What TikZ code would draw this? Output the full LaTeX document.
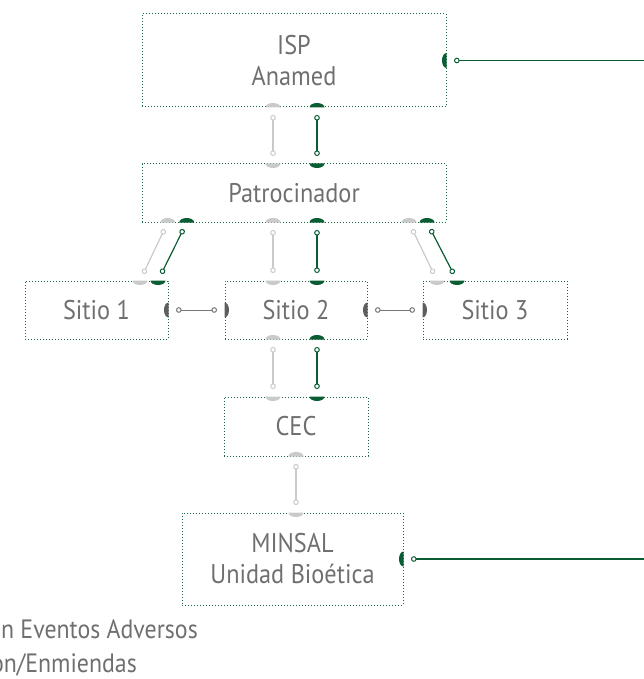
\documentclass[tikz,border=0pt]{standalone}
\usepackage{fontspec}
\setmainfont{PT Sans}[FakeStretch=0.9]
\usetikzlibrary{arrows.meta}

\definecolor{txtgrey}{HTML}{6F6F6F}
\definecolor{boxgreen}{HTML}{1A6641}
\definecolor{dkgreen}{HTML}{0A5C33}
\definecolor{lgrey}{HTML}{CACACA}
\definecolor{dgrey}{HTML}{5E5E5E}

\tikzset{
  ring/.tip={Circle[open,length=5.6pt,width=5.6pt,line width=1pt]},
  box/.style={draw=boxgreen, line width=1pt, dash pattern=on 1pt off 2pt,
    text=txtgrey, inner sep=0pt, align=center, font=\fontsize{27}{31}\selectfont},
  note/.style={text=txtgrey, inner sep=0pt, font=\fontsize{26.5}{32}\selectfont},
  link/.style={line width=1.2pt, shorten <=7.5pt, shorten >=7.5pt, ring-ring},
  glink/.style={link, draw=lgrey},
  klink/.style={link, draw=dkgreen},
  dlink/.style={link, draw=dgrey!85, line width=1pt},
  plug/.pic={\fill (-7.5,0) arc[start angle=180,end angle=0,x radius=7.5,y radius=4.5] -- cycle;},
}

\begin{document}
\begin{tikzpicture}[x=1pt,y=-1pt]
\useasboundingbox (0,0) rectangle (644,679);
\coordinate (rim) at (644,0);

\begin{scope}[every node/.style={box}]
  \node[minimum width=304pt, minimum height=93pt] (isp) at (294,60.5) {ISP\\Anamed};
  \node[minimum width=304pt, minimum height=58pt] (pat) at (294,193) {Patrocinador};
  \node[minimum width=143pt, minimum height=58pt] (s1) at (96.5,310) {Sitio 1};
  \node[minimum width=142pt, minimum height=58pt] (s2) at (296,310) {Sitio 2};
  \node[minimum width=144pt, minimum height=58pt] (s3) at (495,310) {Sitio 3};
  \node[minimum width=144pt, minimum height=59pt] (cec) at (296,426.5) {CEC};
  \node[minimum width=221pt, minimum height=92pt] (minsal) at (292.5,559) {MINSAL\\Unidad Bioética};
\end{scope}

% enchufes en los bordes
\foreach \a/\dx/\r/\c in {
    isp.south/-21/180/lgrey, isp.south/23/180/dkgreen, isp.east/0/-90/dkgreen,
    pat.north/-21/0/lgrey, pat.north/23/0/dkgreen,
    pat.south/-126.3/180/lgrey, pat.south/-107.3/180/dkgreen,
    pat.south/-21/180/lgrey, pat.south/23/180/dkgreen,
    pat.south/115/180/lgrey, pat.south/133/180/dkgreen,
    s1.north/43.5/0/lgrey, s1.north/61.5/0/dkgreen, s1.east/0/-90/dgrey,
    s2.north/-23/0/lgrey, s2.north/21/0/dkgreen, s2.west/0/90/dgrey, s2.east/0/-90/dgrey,
    s2.south/-23/180/lgrey, s2.south/21/180/dkgreen,
    s3.north/-58/0/lgrey, s3.north/-38/0/dkgreen, s3.west/0/90/dgrey,
    cec.north/-23/0/lgrey, cec.north/21/0/dkgreen, cec.south/0/180/lgrey,
    minsal.north/3.5/0/lgrey, minsal.east/0/-90/dkgreen}
  \pic[\c, rotate=\r] at ([xshift=\dx pt]\a) {plug};

% ISP - Patrocinador
\draw[glink] ([xshift=-21pt]isp.south) -- ([xshift=-21pt]pat.north);
\draw[klink] ([xshift=23pt]isp.south) -- ([xshift=23pt]pat.north);
% Patrocinador - sitios
\draw[glink] ([xshift=-126.3pt]pat.south) -- ([xshift=43.5pt]s1.north);
\draw[klink] ([xshift=-107.3pt]pat.south) -- ([xshift=61.5pt]s1.north);
\draw[glink] ([xshift=-21pt]pat.south) -- ([xshift=-23pt]s2.north);
\draw[klink] ([xshift=23pt]pat.south) -- ([xshift=21pt]s2.north);
\draw[glink] ([xshift=115pt]pat.south) -- ([xshift=-58pt]s3.north);
\draw[klink] ([xshift=133pt]pat.south) -- ([xshift=-38pt]s3.north);
% entre sitios
\draw[dlink] (s1.east) -- (s2.west);
\draw[dlink] (s2.east) -- (s3.west);
% Sitio 2 - CEC - MINSAL
\draw[glink] ([xshift=-23pt]s2.south) -- ([xshift=-23pt]cec.north);
\draw[klink] ([xshift=21pt]s2.south) -- ([xshift=21pt]cec.north);
\draw[glink] (cec.south) -- ([xshift=3.5pt]minsal.north);
% salidas a la derecha
\draw[klink, shorten >=0pt, ring-] (isp.east) -- (isp.east -| rim);
\draw[klink, shorten >=0pt, ring-] (minsal.east) -- (minsal.east -| rim);

\node[note, anchor=base east] (eventos) at (198,638.5) {n Eventos Adversos};
\node[note, anchor=base east] (enmiendas) at (137,672) {ón/Enmiendas};

\end{tikzpicture}
\end{document}
